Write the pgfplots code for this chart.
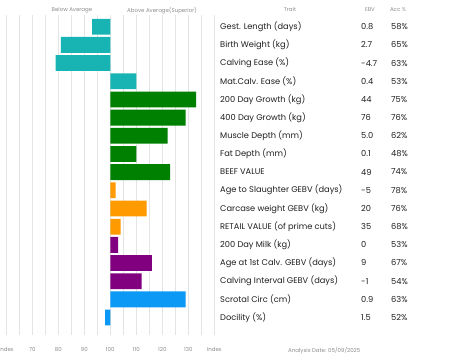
\documentclass[border=0pt]{standalone}
\usepackage{pgfplots}
\pgfplotsset{compat=1.18}
\usepackage{pgfplotstable}
\usepackage{fontspec}
\setmainfont{Poppins}
\definecolor{cteal}{RGB}{24,180,180}
\definecolor{cgreen}{RGB}{0,128,0}
\definecolor{corange}{RGB}{255,154,0}
\definecolor{cpurple}{RGB}{128,0,128}
\definecolor{cblue}{RGB}{12,152,245}
\definecolor{cgrid}{RGB}{228,228,228}
\definecolor{ctxt}{RGB}{30,30,30}
\definecolor{chead}{RGB}{140,140,140}

\pgfplotstableread{
row idx
1 93
2 81
3 79
4 110
}\tealdata
\pgfplotstableread{
row idx
5 133
6 129
7 122
8 110
9 123
}\greendata
\pgfplotstableread{
row idx
10 102
11 114
12 104
}\orangedata
\pgfplotstableread{
row idx
13 103
14 116
15 112
}\purpledata
\pgfplotstableread{
row idx
16 129
17 98
}\bluedata

\begin{document}
\begin{tikzpicture}[x=1bp,y=1bp]
\path[use as bounding box] (0,0) rectangle (453,-362);
\begin{axis}[
  at={(6.3bp,-335bp)}, anchor=south west,
  scale only axis, width=208bp, height=320bp,
  xmin=-40, xmax=40, ymin=0.356, ymax=17.96,
  y dir=reverse,
  xbar, bar shift=0pt, bar width=0.87,
  axis line style={draw=none},
  xtick={-40,-30,...,40},
  xticklabels={Index,70,80,90,100,110,120,130,Index},
  minor x tick num=1,
  xmajorgrids, xminorgrids,
  grid style={cgrid, line width=0.6bp},
  minor grid style={cgrid, line width=0.6bp},
  major tick length=0pt, minor tick length=0pt,
  ytick=\empty,
  xticklabel style={font=\fontsize{5.5}{6}\selectfont, text=chead, yshift=-9bp},
  clip=false,
]
\addplot[fill=cteal, draw=none] table[x expr=\thisrow{idx}-100, y=row] {\tealdata};
\addplot[fill=cgreen, draw=none] table[x expr=\thisrow{idx}-100, y=row] {\greendata};
\addplot[fill=corange, draw=none] table[x expr=\thisrow{idx}-100, y=row] {\orangedata};
\addplot[fill=cpurple, draw=none] table[x expr=\thisrow{idx}-100, y=row] {\purpledata};
\addplot[fill=cblue, draw=none] table[x expr=\thisrow{idx}-100, y=row] {\bluedata};
\end{axis}
% headers
\begin{scope}[every node/.style={font=\fontsize{5.5}{6}\selectfont, text=chead, inner sep=0pt}]
\node at (72,-10.5) {Below Average};
\node at (162,-10.5) {Above Average(Superior)};
\node at (290,-9.5) {Trait};
\node at (370,-9.5) {EBV};
\node at (398,-9.5) {Acc \%};
\node[anchor=west] at (288,-350.5) {Analysis Date: 05/09/2025};
\end{scope}
% table rows
\begin{scope}[every node/.style={font=\fontsize{8.3}{9}\selectfont, text=ctxt, inner sep=0pt, anchor=west}]
\foreach \t/\e/\a [count=\i] in {
 {Gest. Length (days)}/0.8/58\%,
 {Birth Weight (kg)}/2.7/65\%,
 {Calving Ease (\%)}/-4.7/63\%,
 {Mat.Calv. Ease (\%)}/0.4/53\%,
 {200 Day Growth (kg)}/44/75\%,
 {400 Day Growth (kg)}/76/76\%,
 {Muscle Depth (mm)}/5.0/62\%,
 {Fat Depth (mm)}/0.1/48\%,
 {BEEF VALUE}/49/74\%,
 {Age to Slaughter GEBV (days)}/-5/78\%,
 {Carcase weight GEBV (kg)}/20/76\%,
 {RETAIL VALUE (of prime cuts)}/35/68\%,
 {200 Day Milk (kg)}/0/53\%,
 {Age at 1st Calv. GEBV (days)}/9/67\%,
 {Calving Interval GEBV (days)}/-1/54\%,
 {Scrotal Circ (cm)}/0.9/63\%,
 {Docility (\%)}/1.5/52\%}
{
 \pgfmathsetmacro{\yy}{-26.7-(\i-1)*18.17}
 \node at (220,\yy) {\t};
 \node at (361,\yy) {\e};
 \node at (391,\yy) {\a};
}
\end{scope}
\end{tikzpicture}
\end{document}
